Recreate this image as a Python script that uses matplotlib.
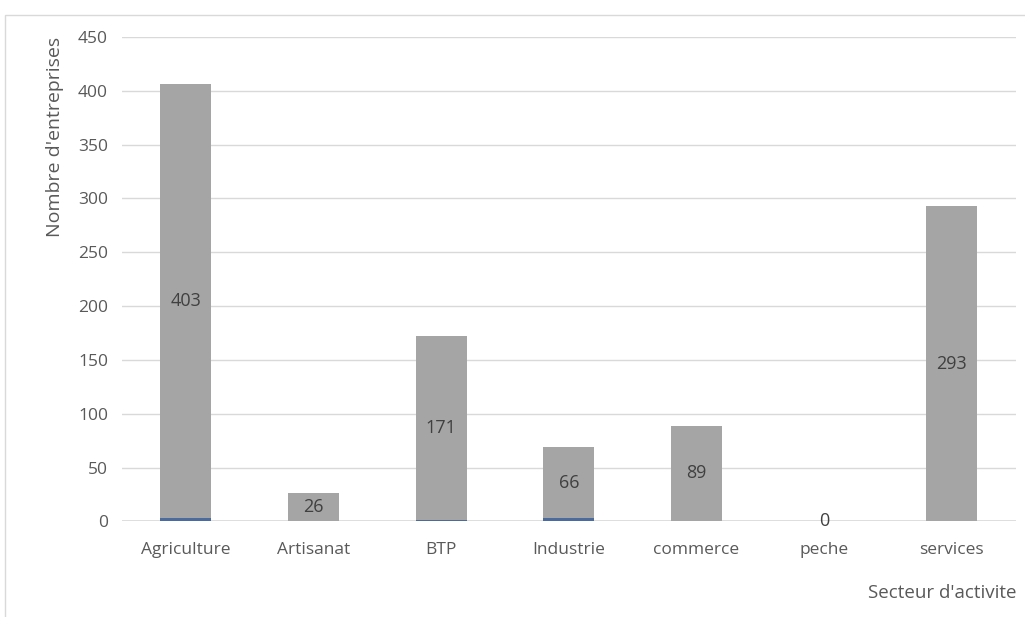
import numpy as np
import matplotlib.pyplot as plt
from matplotlib.patches import Rectangle

# Sectors and counts (two stacked series)
secteurs = ['Agriculture', 'Artisanat', 'BTP', 'Industrie', 'commerce', 'peche', 'services']
serie_bleue = [3, 0, 1, 3, 0, 0, 0]
serie_grise = [403, 26, 171, 66, 89, 0, 293]
y_ticks = [0, 50, 100, 150, 200, 250, 300, 350, 400, 450]

TEXT_COL = "#595959"
GRID_COL = "#d9d9d9"
GREY = "#a5a5a5"
BLUE = "#4a6b9c"

plt.rcParams['font.family'] = ['Open Sans', 'DejaVu Sans']

fig = plt.figure(figsize=(10.25, 6.17), dpi=100)
ax = fig.add_axes([0.119, 0.155, 0.872, 0.785])

x = np.arange(len(secteurs))
width = 0.4

ax.bar(x, serie_bleue, width=width, color=BLUE, zorder=3)
ax.bar(x, serie_grise, width=width, bottom=serie_bleue, color=GREY, zorder=3)

# Value labels centred in the grey segment
for xi, b, g in zip(x, serie_bleue, serie_grise):
    ax.text(xi, b + g / 2, f"{g}", ha='center', va='center',
            fontsize=13, color="#404040", zorder=4)

ax.set_xlim(-0.5, len(secteurs) - 0.5)
ax.set_ylim(0, 450)
ax.set_yticks(y_ticks)
ax.set_xticks(x)
ax.set_xticklabels(secteurs)
ax.tick_params(axis='both', length=0, colors=TEXT_COL, labelsize=12.5)
ax.tick_params(axis='y', pad=10)
ax.tick_params(axis='x', pad=15)

ax.yaxis.grid(True, color=GRID_COL, linewidth=1, zorder=0)
for s in ax.spines.values():
    s.set_visible(False)
ax.axhline(0, color=GRID_COL, linewidth=1.2, zorder=2)

# Axis titles
fig.text(0.054, 0.94, "Nombre d'entreprises", rotation=90, ha='center', va='top',
         fontsize=14, color=TEXT_COL)
fig.text(0.992, 0.039, "Secteur d'activite", ha='right', va='center',
         fontsize=13.5, color=TEXT_COL)

# Chart area border
fig.patches.append(Rectangle((0.005, -0.02), 1.02, 0.995, transform=fig.transFigure,
                             fill=False, edgecolor="#d9d9d9", linewidth=1))

fig.savefig("out.png", dpi=100)
